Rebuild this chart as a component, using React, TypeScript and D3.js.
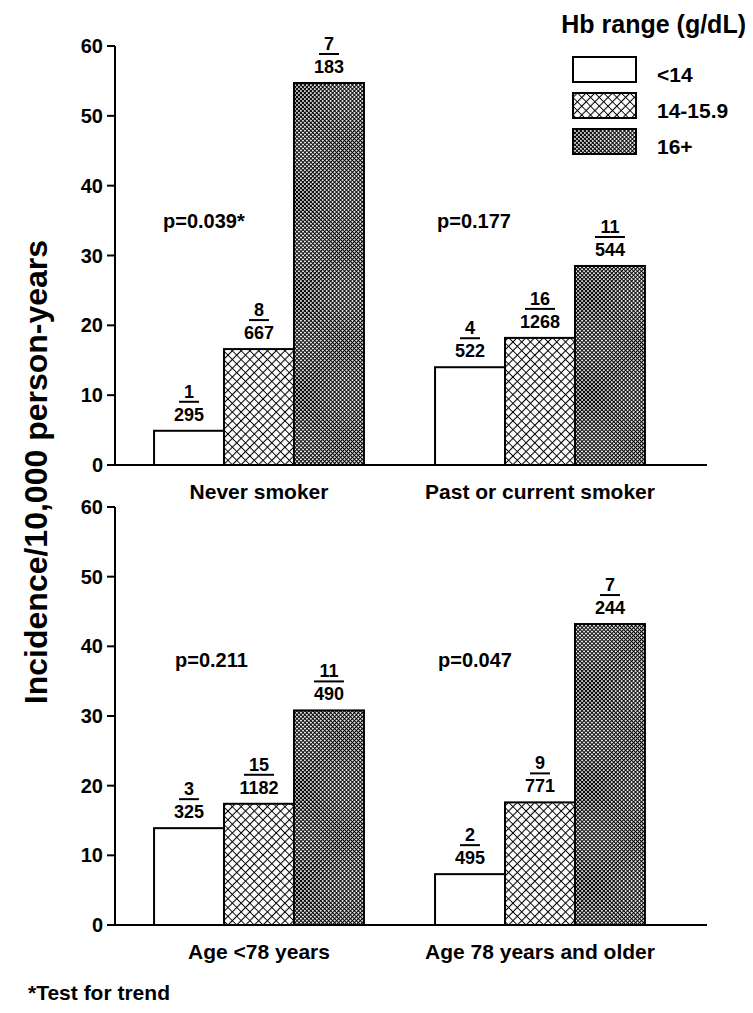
import React from "react";
import * as d3 from "d3";

// Hb range series
const hbRanges = ["<14", "14-15.9", "16+"];

// panel categories
const smokingGroups = ["Never smoker", "Past or current smoker"];
const ageGroups = ["Age <78 years", "Age 78 years and older"];

// incidence per 10,000 person-years
const neverSmoker = [4.9, 16.6, 54.7];
const pastSmoker = [14.0, 18.2, 28.5];
const ageUnder78 = [13.9, 17.4, 30.8];
const age78Plus = [7.3, 17.6, 43.2];

// cases / person-years shown above bars
const neverSmokerCases = [1, 8, 7];
const neverSmokerPY = [295, 667, 183];
const pastSmokerCases = [4, 16, 11];
const pastSmokerPY = [522, 1268, 544];
const ageUnder78Cases = [3, 15, 11];
const ageUnder78PY = [325, 1182, 490];
const age78PlusCases = [2, 9, 7];
const age78PlusPY = [495, 771, 244];

const smokingP = ["p=0.039*", "p=0.177"];
const ageP = ["p=0.211", "p=0.047"];

const yTicks = [0, 10, 20, 30, 40, 50, 60];

const FONT = "Arial, 'Liberation Sans', Helvetica, sans-serif";
const fills = ["#fff", "url(#hatchA)", "url(#hatchB)"];

type Panel = {
  groups: string[];
  values: number[][];
  cases: number[][];
  py: number[][];
  p: string[];
  top: number;
  bottom: number;
  pY: number;
  pDx: number[];
};

const panels: Panel[] = [
  {
    groups: smokingGroups,
    values: [neverSmoker, pastSmoker],
    cases: [neverSmokerCases, pastSmokerCases],
    py: [neverSmokerPY, pastSmokerPY],
    p: smokingP,
    top: 46,
    bottom: 465,
    pY: 34,
    pDx: [9, 2],
  },
  {
    groups: ageGroups,
    values: [ageUnder78, age78Plus],
    cases: [ageUnder78Cases, age78PlusCases],
    py: [ageUnder78PY, age78PlusPY],
    p: ageP,
    top: 507,
    bottom: 925,
    pY: 37,
    pDx: [21, 3],
  },
];

const axisLeft = 115;
const axisRight = 707;

const PanelChart = ({ panel }: { panel: Panel }) => {
  const x = d3
    .scaleBand()
    .domain(panel.groups)
    .range([axisLeft, 684])
    .paddingInner(0.253)
    .paddingOuter(0.139);
  const inner = d3.scaleBand().domain(hbRanges).range([0, x.bandwidth()]);
  const y = d3.scaleLinear().domain([0, 60]).range([panel.bottom, panel.top]);

  return (
    <g>
      {panel.groups.map((g, gi) => (
        <g key={g}>
          {hbRanges.map((h, hi) => {
            const v = panel.values[gi][hi];
            const bx = (x(g) as number) + (inner(h) as number);
            const cx = bx + inner.bandwidth() / 2;
            const num = String(panel.cases[gi][hi]);
            const lw = num.length * 10 + 10;
            return (
              <g key={h}>
                <rect
                  x={bx}
                  y={y(v)}
                  width={inner.bandwidth()}
                  height={y(0) - y(v)}
                  fill={fills[hi]}
                  stroke="#000"
                  strokeWidth={2}
                />
                <text x={cx} y={y(v) - 33} textAnchor="middle" fontSize={18}>
                  {num}
                </text>
                <line
                  x1={cx - lw / 2}
                  x2={cx + lw / 2}
                  y1={y(v) - 29}
                  y2={y(v) - 29}
                  stroke="#000"
                  strokeWidth={2}
                />
                <text x={cx} y={y(v) - 10} textAnchor="middle" fontSize={18}>
                  {panel.py[gi][hi]}
                </text>
              </g>
            );
          })}
          <text
            x={(x(g) as number) + panel.pDx[gi]}
            y={y(panel.pY)}
            fontSize={20}
          >
            {panel.p[gi]}
          </text>
          <text
            x={(x(g) as number) + x.bandwidth() / 2}
            y={panel.bottom + 34}
            textAnchor="middle"
            fontSize={21}
          >
            {g}
          </text>
        </g>
      ))}
      {/* axes */}
      <line x1={axisLeft} x2={axisLeft} y1={y(60)} y2={y(0)} stroke="#000" strokeWidth={2} />
      <line x1={axisLeft - 8} x2={axisRight} y1={y(0)} y2={y(0)} stroke="#000" strokeWidth={2} />
      {yTicks.map((t) => (
        <g key={t}>
          <line x1={axisLeft - 8} x2={axisLeft} y1={y(t)} y2={y(t)} stroke="#000" strokeWidth={2} />
          <text x={axisLeft - 12} y={y(t) + 7} textAnchor="end" fontSize={20}>
            {t}
          </text>
        </g>
      ))}
    </g>
  );
};

export default function App() {
  return (
    <svg
      width={753}
      height={1013}
      style={{ position: "absolute", left: 0, top: 0, background: "#fff" }}
      fontFamily={FONT}
      fontWeight="bold"
    >
      <defs>
        <pattern
          id="hatchA"
          patternUnits="userSpaceOnUse"
          width={6.2}
          height={6.2}
          patternTransform="rotate(45)"
        >
          <rect width={6.2} height={6.2} fill="#fff" />
          <path d="M0,3.1 H6.2 M3.1,0 V6.2" stroke="#000" strokeWidth={1.1} />
        </pattern>
        <pattern
          id="hatchB"
          patternUnits="userSpaceOnUse"
          width={2.8}
          height={2.8}
          patternTransform="rotate(45)"
        >
          <rect width={2.8} height={2.8} fill="#fff" />
          <path d="M0,1.4 H2.8 M1.4,0 V2.8" stroke="#000" strokeWidth={1.15} />
        </pattern>
      </defs>
      <rect width={753} height={1013} fill="#fff" />

      {panels.map((p, i) => (
        <PanelChart key={i} panel={p} />
      ))}

      <text
        transform="translate(47,472) rotate(-90)"
        textAnchor="middle"
        fontSize={32}
      >
        Incidence/10,000 person-years
      </text>

      {/* legend */}
      <text x={746} y={33} textAnchor="end" fontSize={25}>
        Hb range (g/dL)
      </text>
      {hbRanges.map((h, i) => (
        <g key={h} transform={`translate(573,${57 + i * 36})`}>
          <rect width={63} height={25} fill={fills[i]} stroke="#000" strokeWidth={2} />
          <text x={84} y={25} fontSize={21}>
            {h}
          </text>
        </g>
      ))}

      <text x={28} y={1000} fontSize={21}>
        *Test for trend
      </text>
    </svg>
  );
}
